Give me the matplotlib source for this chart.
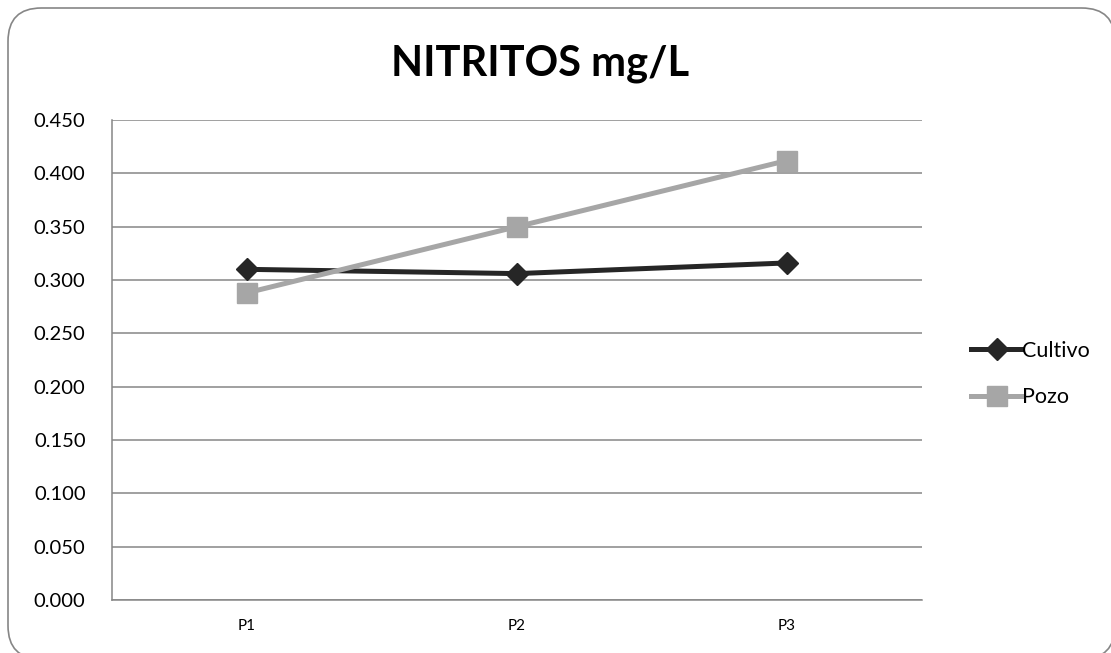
import matplotlib
matplotlib.use("Agg")
import matplotlib.pyplot as plt
from matplotlib.patches import FancyBboxPatch
import numpy as np

# data
categories = ["P1", "P2", "P3"]
cultivo = [0.310, 0.306, 0.316]
pozo = [0.288, 0.350, 0.412]
y_ticks = [0.0, 0.05, 0.10, 0.15, 0.20, 0.25, 0.30, 0.35, 0.40, 0.45]

plt.rcParams['font.family'] = ['Lato', 'DejaVu Sans']

W, H = 1111, 653
fig = plt.figure(figsize=(W / 100, H / 100), dpi=100)

# rounded outer frame (runs slightly past right/bottom edge like the source)
frame = FancyBboxPatch((8 / W, -6 / H), (W + 4) / W - 8 / W, (H - 8 + 6) / H,
                       boxstyle="round,pad=0,rounding_size=0.03",
                       transform=fig.transFigure, facecolor="white",
                       edgecolor="#868686", linewidth=1.2, zorder=-5,
                       mutation_aspect=W / H)
fig.patches.append(frame)

ax = fig.add_axes([112 / W, 53 / H, 810 / W, 480 / H])
ax.set_zorder(2)
ax.set_facecolor("none")

x = np.arange(len(categories))
ax.plot(x, cultivo, color="#262626", lw=3.6, marker="D", markersize=11.5,
        label="Cultivo", zorder=3)
ax.plot(x, pozo, color="#A6A6A6", lw=3.6, marker="s", markersize=15,
        label="Pozo", zorder=3)

ax.set_xlim(-0.5, 2.5)
ax.set_ylim(0, 0.45)
ax.set_yticks(y_ticks)
ax.set_yticklabels([f"{v:.3f}" for v in y_ticks], fontsize=14.5)
ax.set_xticks(x)
ax.set_xticklabels(categories, fontsize=11)
ax.tick_params(axis="both", length=0)
ax.tick_params(axis="y", pad=19)
ax.tick_params(axis="x", pad=14)
ax.yaxis.grid(True, color="#868686", lw=1.1)
ax.set_axisbelow(True)
for side in ["top", "right"]:
    ax.spines[side].set_visible(False)
for side in ["left", "bottom"]:
    ax.spines[side].set_color("#868686")
    ax.spines[side].set_linewidth(1.1)

fig.text(540 / W, 1 - 64 / H, "NITRITOS mg/L", ha="center", va="center",
         fontsize=30, fontweight="bold", zorder=3)

leg = ax.legend(loc="center left", bbox_to_anchor=(960 / W, 1 - 374 / H),
                bbox_transform=fig.transFigure, frameon=False, fontsize=15.5,
                handlelength=2.4, handletextpad=0.0, labelspacing=1.25,
                borderpad=0)

fig.savefig("out.png", dpi=100)
